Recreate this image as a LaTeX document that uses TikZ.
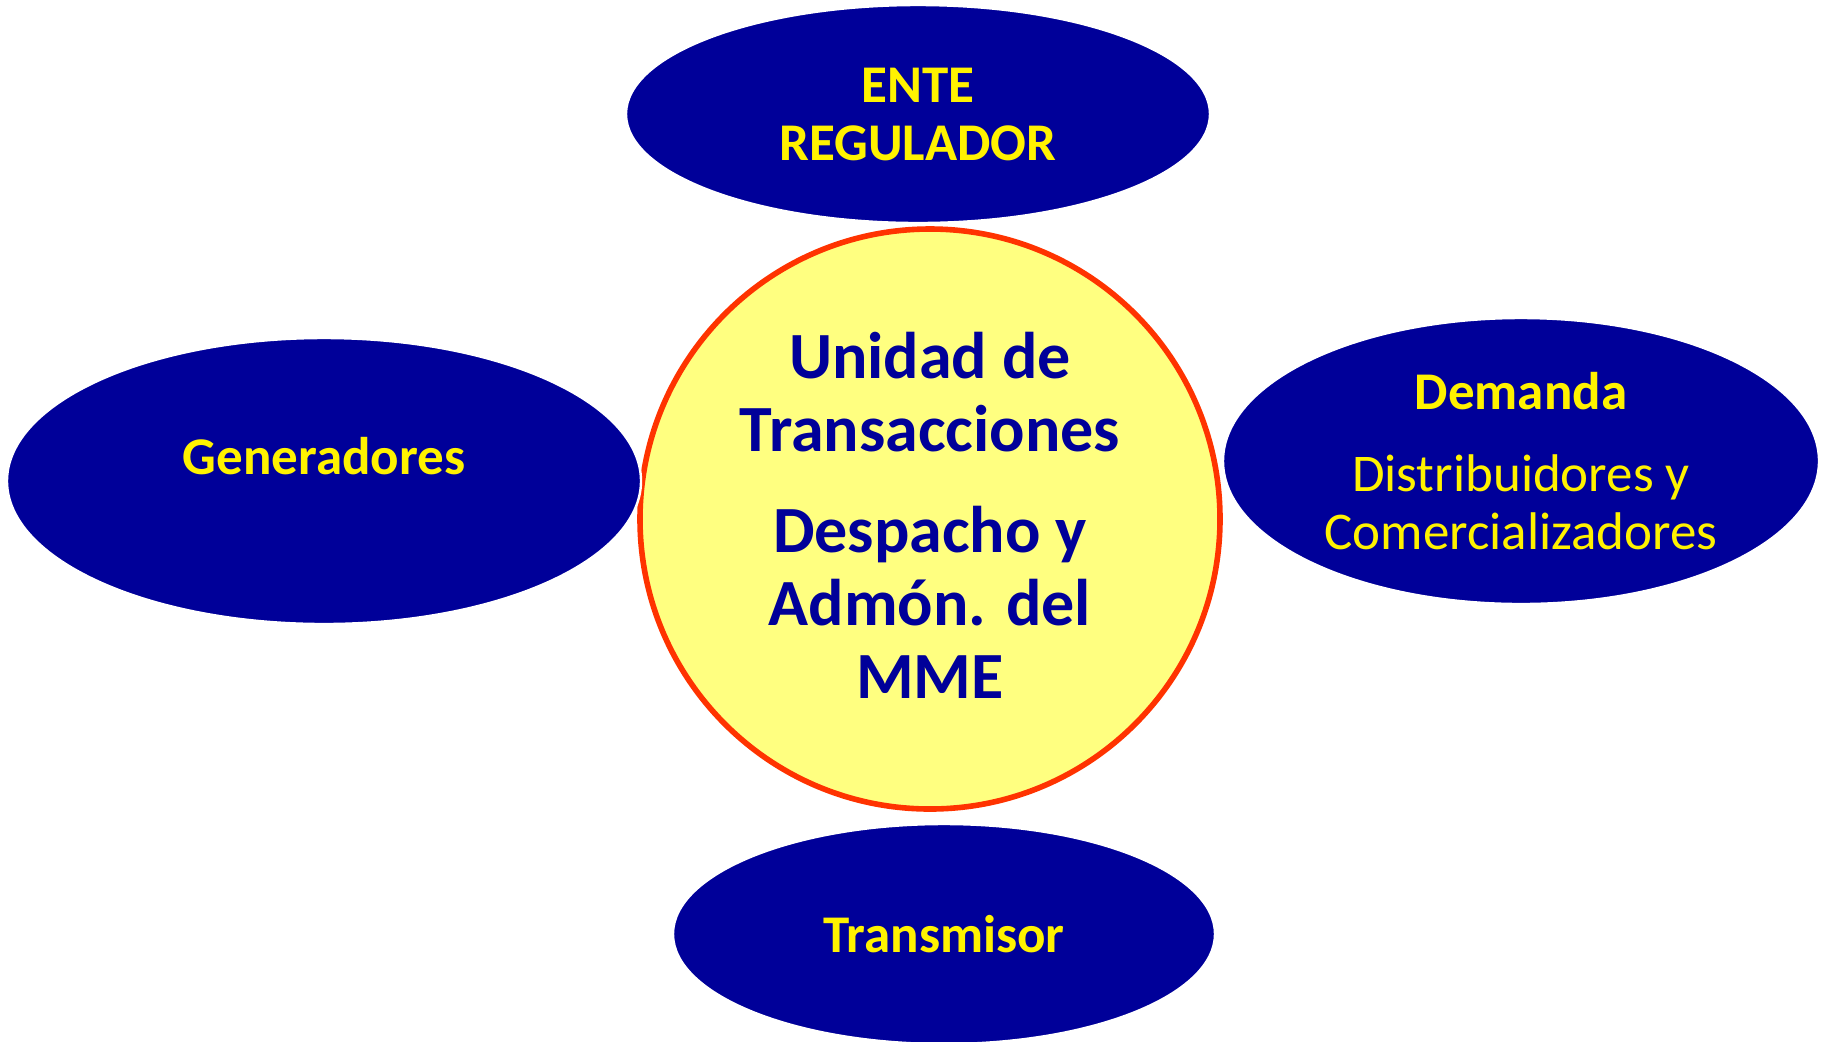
\documentclass[tikz,border=0pt]{standalone}
\usepackage{fontspec}
\setmainfont{Carlito}
\usetikzlibrary{shapes.geometric}

\definecolor{navy}{HTML}{000099}
\definecolor{paleyellow}{HTML}{FFFF80}
\definecolor{ringred}{HTML}{FF3300}

\begin{document}
\begin{tikzpicture}[x=0.5pt,y=-0.5pt,
    bubble/.style={ellipse, fill=navy, draw=white, line width=1.2pt,
      inner sep=0pt, outer sep=0pt, text=yellow, align=center,
      font=\bfseries\fontsize{26.5}{29}\selectfont},
    bubtext/.style={text=yellow, inner sep=0pt,
      font=\bfseries\fontsize{26.5}{29}\selectfont},
    hub/.style={circle, fill=paleyellow, draw=ringred, line width=2.8pt,
      minimum size=290pt, inner sep=0pt, text=navy, align=center,
      font=\bfseries\fontsize{33}{36.5}\selectfont}]

    % Fix the page to the size of the reference (in pixels)
    \useasboundingbox (0,0) rectangle (1825,1041);

    % Central circle: the market operator
    \node[hub] (ut) at (930,519)
      {Unidad de\\Transacciones\\[14pt]Despacho y\\Admón. del\\MME\\[-33pt]};

    % The four agents around it
    \node[bubble, minimum width=292pt, minimum height=109pt] (ente) at (918,114)
      {ENTE\\REGULADOR};
    \node[bubble, minimum width=317pt, minimum height=143pt] (gen) at (324,481) {};
    \node[bubtext, anchor=base] (gentxt) at (324,474) {Generadores};
    \node[bubble, minimum width=298pt, minimum height=143pt] (dem) at (1521,461)
      {Demanda\\[12pt]{\mdseries Distribuidores y}\\{\mdseries Comercializadores}};
    \node[bubble, minimum width=271pt, minimum height=110pt] (trans) at (944,934)
      {Transmisor};

\end{tikzpicture}
\end{document}
